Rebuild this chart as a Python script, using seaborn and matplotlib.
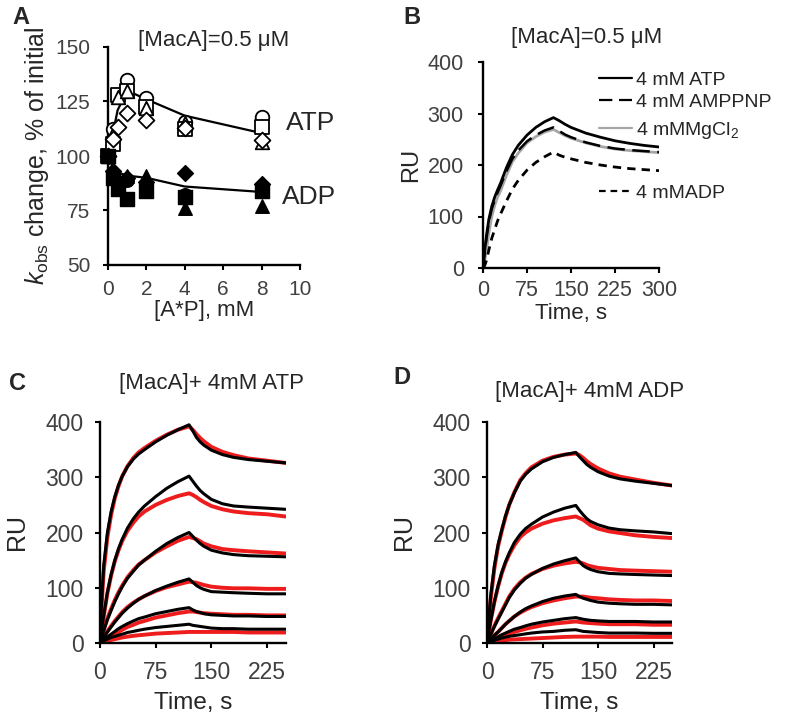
import numpy as np
import pandas as pd
import matplotlib
matplotlib.use("Agg")
import matplotlib.pyplot as plt
import seaborn as sns
from matplotlib.lines import Line2D

# ---------------- Panel A data ----------------
conc = [0, 0.25, 0.5, 1, 2, 4, 8]
atp_circle = [100, 112.5, 128, 135, 126.5, 115.5, 118]
atp_square = [100, 105.5, 128, 130, 122.5, 112.5, 113.5]
atp_triangle = [100, 110, 127, 130, 122, 115, 106.5]
atp_diamond = [100, 108, 113.5, 119.5, 116.5, 113, 107.5]
adp_square = [100, 90, 85, 80.5, 84, 81, 84]
adp_triangle = [100, 92, 89, 91, 91, 76, 77]
adp_diamond = [100, 93, 88, 90, 88, 92, 87]
adp_circle = [100, 91, 87, 89, 86, 82, 86]
atp_fit_x = [0.25, 0.5, 1, 2, 4, 8]
atp_fit_y = [110, 121, 130, 126, 118.5, 110.5]
adp_fit_x = [0, 0.25, 0.5, 1, 2, 4, 8]
adp_fit_y = [100, 95, 92.5, 91, 90, 86, 83.5]

# ---------------- Panel B data ----------------
t_b = [0, 3, 6, 10, 15, 20, 25, 30, 40, 50, 60, 75, 90, 105, 120,
       130, 140, 150, 175, 200, 225, 250, 275, 300]
b_atp = [0, 35, 64, 95, 120, 138, 152, 165, 195, 220, 238, 258, 273, 284, 292,
         286, 279, 273, 262, 254, 247, 242, 238, 235]
b_amppnp = [0, 32, 58, 90, 115, 132, 147, 160, 188, 212, 228, 246, 258, 267, 273,
            266, 259, 254, 244, 237, 232, 229, 227, 225]
b_mgcl2 = [0, 15, 35, 68, 100, 122, 138, 150, 180, 206, 223, 243, 255, 264, 269,
           263, 257, 252, 243, 236, 231, 228, 226, 224]
b_adp = [0, 5, 15, 35, 58, 75, 92, 105, 130, 153, 170, 190, 205, 216, 225,
         219, 215, 212, 205, 200, 196, 193, 191, 189]

# ---------------- Panels C, D data ----------------
t_cd = [0, 2, 5, 10, 15, 20, 25, 30, 37, 45, 52, 60, 75, 90, 105, 120,
        125, 130, 135, 140, 150, 165, 180, 200, 225, 250]
c_fit = [
    [0, 70, 140, 200, 238, 265, 286, 302, 319, 333, 342, 350, 364, 376, 386, 395,
     384, 372, 364, 358, 349, 341, 336, 332, 329, 326],
    [0, 22, 50, 92, 124, 150, 171, 188, 208, 225, 237, 248, 265, 280, 292, 302,
     293, 284, 276, 270, 260, 252, 248, 246, 244, 242],
    [0, 9, 22, 42, 59, 75, 89, 102, 117, 130, 141, 150, 166, 180, 191, 200,
     193, 186, 180, 175, 168, 163, 160, 158, 157, 156],
    [0, 4, 10, 20, 29, 38, 46, 54, 63, 72, 79, 85, 95, 103, 110, 116,
     110, 104, 100, 97, 93, 92, 91, 90, 89, 89],
    [0, 2, 6, 11, 16, 21, 26, 30, 35, 40, 44, 47, 53, 57, 61, 64,
     60, 57, 55, 53, 51, 50, 49, 49, 48, 48],
    [0, 2, 4, 7, 10, 12, 14, 16, 19, 21, 23, 25, 28, 30, 32, 34,
     32, 31, 30, 29, 27, 26, 26, 25, 25, 25],
]
c_data = [
    [0, 62, 130, 192, 232, 262, 284, 302, 320, 335, 345, 353, 366, 377, 386, 392,
     386, 378, 371, 365, 355, 346, 340, 334, 330, 326],
    [0, 20, 48, 90, 122, 148, 168, 185, 203, 218, 229, 238, 250, 259, 266, 271,
     268, 264, 259, 255, 248, 242, 238, 235, 233, 229],
    [0, 10, 24, 45, 62, 78, 92, 104, 119, 132, 142, 150, 164, 175, 185, 192,
     190, 188, 184, 180, 175, 170, 168, 166, 164, 162],
    [0, 4, 11, 21, 31, 40, 48, 56, 65, 73, 79, 85, 94, 101, 106, 111,
     110, 109, 107, 105, 102, 100, 99, 99, 98, 98],
    [0, 2, 4, 8, 12, 16, 20, 24, 29, 33, 37, 40, 46, 50, 54, 57,
     57, 56, 55, 54, 53, 52, 51, 51, 50, 50],
    [0, 1, 2, 4, 5.5, 7, 8.5, 10, 11.5, 13, 14, 15, 17, 18, 19, 20,
     20, 20, 20, 20, 20, 20, 20, 19, 19, 19],
]
d_fit = [
    [0, 38, 85, 140, 178, 205, 230, 250, 272, 293, 305, 315, 328, 336, 341, 345,
     337, 330, 323, 318, 310, 302, 297, 293, 289, 285],
    [0, 17, 40, 75, 104, 128, 147, 163, 182, 197, 207, 215, 228, 237, 244, 249,
     240, 232, 225, 220, 214, 208, 205, 203, 201, 198],
    [0, 6, 15, 30, 43, 56, 69, 82, 96, 108, 117, 124, 135, 143, 149, 154,
     147, 140, 136, 133, 129, 126, 125, 124, 123, 122],
    [0, 3, 7, 14, 20, 27, 34, 40, 48, 56, 62, 67, 75, 81, 85, 88,
     84, 81, 79, 77, 74, 72, 71, 70, 70, 69],
    [0, 2, 4, 8, 11.5, 15, 18, 21, 25, 28, 31, 34, 38, 41, 44, 46,
     44.5, 43, 42, 41, 40, 39, 39, 39, 38, 38],
    [0, 1, 3, 5, 7, 9, 10.5, 12, 13.5, 15, 16.5, 18, 20, 21, 23, 24,
     22.5, 21, 20.5, 20, 19, 18, 18, 18, 17.5, 17.5],
]
d_data = [
    [0, 35, 80, 135, 175, 203, 228, 250, 273, 295, 307, 318, 330, 337, 341, 343,
     340, 335, 329, 324, 316, 307, 301, 296, 290, 285],
    [0, 17, 40, 74, 102, 126, 145, 160, 177, 192, 200, 207, 216, 222, 226, 229,
     226, 223, 218, 213, 207, 202, 199, 195, 192, 190],
    [0, 6, 16, 31, 45, 58, 71, 84, 98, 110, 118, 125, 134, 140, 144, 147,
     146, 144, 141, 139, 136, 134, 132, 131, 130, 129],
    [0, 3, 7, 14, 20, 27, 34, 40, 48, 55, 60, 65, 72, 77, 81, 84,
     84, 84, 83, 82, 81, 79, 78, 77, 77, 76],
    [0, 1, 3, 6, 9, 12, 14.5, 17, 20, 23, 25.5, 28, 32, 35, 37, 39,
     38, 37, 36.5, 36, 35, 34, 34, 34, 33, 33],
    [0, 0.5, 1, 2, 3, 4, 5, 6, 6.5, 7, 7.5, 8, 9, 10, 11, 11.5,
     11.5, 11.5, 11.5, 11.5, 11.5, 11, 11, 11, 11, 11],
]

# ---------------- style ----------------
sns.set_theme(style="ticks")
plt.rcParams["font.family"] = ["Liberation Sans", "DejaVu Sans"]
plt.rcParams["mathtext.fontset"] = "custom"
plt.rcParams["mathtext.rm"] = "Liberation Sans"
plt.rcParams["mathtext.it"] = "Liberation Sans:italic"
plt.rcParams["axes.linewidth"] = 1.7
plt.rcParams["axes.edgecolor"] = "black"
plt.rcParams["xtick.color"] = "black"
plt.rcParams["ytick.color"] = "black"
plt.rcParams["xtick.labelcolor"] = "#404040"
plt.rcParams["ytick.labelcolor"] = "#404040"
plt.rcParams["xtick.major.width"] = 1.5
plt.rcParams["ytick.major.width"] = 1.5
plt.rcParams["xtick.major.size"] = 3.8
plt.rcParams["ytick.major.size"] = 3.8

W, H = 800, 716
fig = plt.figure(figsize=(8, 7.16), dpi=100)


def px_axes(l, t, r, b):
    return fig.add_axes([l / W, 1 - b / H, (r - l) / W, (b - t) / H])


axA = px_axes(108, 47, 300, 265)
axB = px_axes(483, 62, 659, 268)
axC = px_axes(100, 422, 285.5, 643)
axD = px_axes(487, 422, 672, 643)

for ax in (axA, axB, axC, axD):
    sns.despine(ax=ax)

# ---------------- Panel A ----------------
sns.lineplot(x=atp_fit_x, y=atp_fit_y, color="black", lw=1.6, ax=axA, sort=False, estimator=None)
sns.lineplot(x=adp_fit_x, y=adp_fit_y, color="black", lw=1.6, ax=axA, sort=False, estimator=None)
for vals, mk in [(atp_circle, "o"), (atp_square, "s"), (atp_triangle, "^"), (atp_diamond, "D")]:
    s = 65 if mk == "D" else 95
    sns.scatterplot(x=conc, y=vals, marker=mk, s=s, facecolor="white", edgecolor="black",
                    linewidth=1.3, ax=axA, clip_on=False, zorder=3)
for vals, mk in [(adp_square, "s"), (adp_triangle, "^"), (adp_diamond, "D"), (adp_circle, "o")]:
    s = 65 if mk == "D" else 95
    sns.scatterplot(x=conc, y=vals, marker=mk, s=s, color="black", edgecolor="black",
                    linewidth=1, ax=axA, clip_on=False, zorder=4)
axA.set_xlim(0, 10)
axA.set_ylim(50, 150)
axA.set_xticks([0, 2, 4, 6, 8, 10])
axA.set_yticks([50, 75, 100, 125, 150])
axA.tick_params(axis="y", labelsize=15, pad=9)
axA.tick_params(axis="x", labelsize=15, pad=7)
axA.set_xlabel("[A*P], mM", fontsize=16, labelpad=1)
axA.set_ylabel(r"$k_{\mathrm{obs}}$ change, % of initial", fontsize=18, labelpad=3)
axA.text(0.55, 1.03, r"[MacA]=0.5 μM", transform=axA.transAxes, ha="center", va="center", fontsize=16)
axA.text(0.925, 0.652, "ATP", transform=axA.transAxes, ha="left", va="center", fontsize=19)
axA.text(0.905, 0.31, "ADP", transform=axA.transAxes, ha="left", va="center", fontsize=19)

# ---------------- Panel B ----------------
sns.lineplot(x=t_b, y=b_mgcl2, color="#a6a6a6", lw=2.0, ax=axB, estimator=None)
sns.lineplot(x=t_b, y=b_amppnp, color="black", lw=1.8, ax=axB, estimator=None).lines[-1].set_dashes([7, 3])
sns.lineplot(x=t_b, y=b_atp, color="black", lw=2.0, ax=axB, estimator=None)
sns.lineplot(x=t_b, y=b_adp, color="black", lw=2.0, ax=axB, estimator=None).lines[-1].set_dashes([3, 2.2])
axB.set_xlim(0, 300)
axB.set_ylim(0, 400)
axB.set_xticks([0, 75, 150, 225, 300])
axB.set_yticks([0, 100, 200, 300, 400])
axB.tick_params(axis="y", labelsize=15.5, pad=10)
axB.tick_params(axis="x", labelsize=15.5, pad=5)
axB.set_xlabel("Time, s", fontsize=16, labelpad=1)
axB.set_ylabel("RU", fontsize=17, labelpad=4)
axB.text(0.59, 1.12, r"[MacA]=0.5 μM", transform=axB.transAxes, ha="center", va="center", fontsize=16)

legend_entries = [
    (Line2D([], [], color="black", lw=1.6), "4 mM ATP", 0.913),
    (Line2D([], [], color="black", lw=1.6, dashes=[6, 3]), "4 mM AMPPNP", 0.806),
    (Line2D([], [], color="#a6a6a6", lw=1.6), r"4 mMMgCl$_2$", 0.668),
    (Line2D([], [], color="black", lw=1.6, dashes=[3, 2.2]), "4 mMADP", 0.364),
]
for i, (h, lab, yf) in enumerate(legend_entries):
    lg = axB.legend([h], [lab], loc="center left", bbox_to_anchor=(0.66, yf), frameon=False,
                    fontsize=14, handlelength=1.7, handletextpad=0.2, borderpad=0, borderaxespad=0)
    if i < len(legend_entries) - 1:
        axB.add_artist(lg)

# ---------------- Panels C, D ----------------
for ax, fits, datas, title, tx, ty in [(axC, c_fit, c_data, "[MacA]+ 4mM ATP", 0.6, 1.175),
                                        (axD, d_fit, d_data, "[MacA]+ 4mM ADP", 0.557, 1.14)]:
    for vals in datas:
        sns.lineplot(x=t_cd, y=vals, color="#ee1c1c", lw=2.8, ax=ax, estimator=None)
    for vals in fits:
        sns.lineplot(x=t_cd, y=vals, color="black", lw=2.2, ax=ax, estimator=None)
    ax.set_xlim(0, 250)
    ax.set_ylim(0, 400)
    ax.set_xticks([0, 75, 150, 225])
    ax.set_yticks([0, 100, 200, 300, 400])
    ax.tick_params(axis="y", labelsize=16.5, pad=8)
    ax.tick_params(axis="x", labelsize=16.5, pad=9)
    ax.set_xlabel("Time, s", fontsize=17.5, labelpad=6)
    ax.set_ylabel("RU", fontsize=18, labelpad=12)
    ax.text(tx, ty, title, transform=ax.transAxes, ha="center", va="center", fontsize=16)

# ---------------- panel letters ----------------
for ch, x, y in [("A", 21, 17), ("B", 412, 17), ("C", 18, 383), ("D", 402, 378)]:
    fig.text(x / W, 1 - y / H, ch, fontsize=17, fontweight="bold", ha="center", va="center")

fig.savefig("out.png", dpi=100)
